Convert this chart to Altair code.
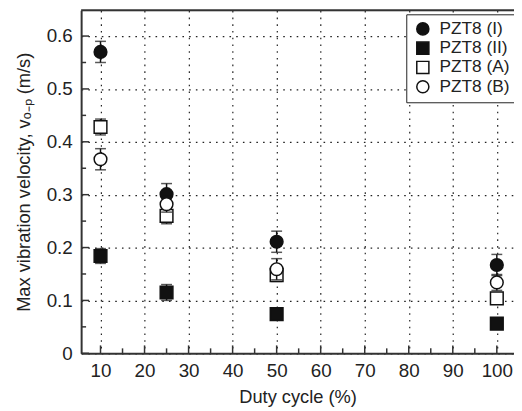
import altair as alt
import pandas as pd

duty = [10, 25, 50, 100]
names = ["PZT8 (I)", "PZT8 (II)", "PZT8 (A)", "PZT8 (B)"]
v_I = [0.570, 0.301, 0.211, 0.167]
e_I = [0.020, 0.020, 0.020, 0.020]
v_II = [0.184, 0.115, 0.074, 0.056]
e_II = [0.014, 0.015, 0.006, 0.005]
v_A = [0.428, 0.260, 0.148, 0.104]
e_A = [0.015, 0.015, 0.012, 0.010]
v_B = [0.367, 0.282, 0.159, 0.134]
e_B = [0.020, 0.015, 0.020, 0.015]

y_major = [0, 0.1, 0.2, 0.3, 0.4, 0.5, 0.6]
y_minor = [0.05, 0.15, 0.25, 0.35, 0.45, 0.55]
x_major = [10, 20, 30, 40, 50, 60, 70, 80, 90, 100]
x_minor = [15, 25, 35, 45, 55, 65, 75, 85, 95]

rows = []
for name, vals, errs in zip(names, [v_I, v_II, v_A, v_B], [e_I, e_II, e_A, e_B]):
    for d, v, e in zip(duty, vals, errs):
        rows.append({"series": name, "duty": d, "v": v, "lo": v - e, "hi": v + e})
df = pd.DataFrame(rows)

W, H = 438, 347
xs = alt.Scale(domain=[5.6, 103.9], nice=False, zero=False)
ys = alt.Scale(domain=[0, 0.6486], nice=False)

FONT = "Liberation Sans"
TXT = "#222222"
LINE = "#333333"

base = alt.Chart(df)

xaxis = alt.Axis(values=x_major, grid=True, gridColor="#222", gridDash=[1.6, 5.2], gridWidth=1.2,
                 ticks=False, domain=True, domainColor=LINE, domainWidth=2,
                 labelFontSize=19, labelFont=FONT, labelColor=TXT,
                 labelPadding=8, title="Duty cycle (%)", titleFontSize=18.5, titleFont=FONT,
                 titleFontWeight="normal", titleColor=TXT, titlePadding=8)
yaxis = alt.Axis(values=y_major, grid=True, gridColor="#222", gridDash=[1.6, 5.2], gridWidth=1.2,
                 ticks=False, domain=True, domainColor=LINE, domainWidth=2,
                 labelFontSize=19, labelFont=FONT, labelColor=TXT,
                 labelPadding=9,
                 labelExpr="datum.value == 0 ? '0' : format(datum.value, '.1f')",
                 title="Max vibration velocity, vₒ₋ₚ (m/s)", titleFontSize=18.5, titleFont=FONT,
                 titleFontWeight="normal", titleColor=TXT, titlePadding=13)

grid_layer = alt.Chart(pd.DataFrame({"x": [10], "y": [0]})).mark_point(opacity=0).encode(
    x=alt.X("x:Q", scale=xs, axis=xaxis),
    y=alt.Y("y:Q", scale=ys, axis=yaxis),
)

top_border = alt.Chart(pd.DataFrame({"y": [0.6486]})).mark_rule(color=LINE, strokeWidth=2).encode(
    y=alt.Y("y:Q", scale=ys), x=alt.value(0), x2=alt.value(W))

ytick_major = alt.Chart(pd.DataFrame({"t": y_major})).mark_rule(color=LINE, strokeWidth=1.5).encode(
    y=alt.Y("t:Q", scale=ys), x=alt.value(0), x2=alt.value(8))
ytick_minor = alt.Chart(pd.DataFrame({"t": y_minor})).mark_rule(color=LINE, strokeWidth=1.5).encode(
    y=alt.Y("t:Q", scale=ys), x=alt.value(0), x2=alt.value(5))
xtick_major = alt.Chart(pd.DataFrame({"t": x_major})).mark_rule(color=LINE, strokeWidth=1.5).encode(
    x=alt.X("t:Q", scale=xs), y=alt.value(H), y2=alt.value(H - 8))
xtick_minor = alt.Chart(pd.DataFrame({"t": x_minor})).mark_rule(color=LINE, strokeWidth=1.5).encode(
    x=alt.X("t:Q", scale=xs), y=alt.value(H), y2=alt.value(H - 5))

layers = [grid_layer, top_border, ytick_major, ytick_minor, xtick_major, xtick_minor]

shape_scale = alt.Scale(domain=names, range=["circle", "square", "square", "circle"])
fill_scale = alt.Scale(domain=names, range=["#111111", "#111111", "#ffffff", "#ffffff"])
stroke_scale = alt.Scale(domain=names, range=["#111111", "#111111", "#111111", "#111111"])
legend = alt.Legend(title=None, orient="none", legendX=329, legendY=4, labelFontSize=17.5,
                    labelFont=FONT, labelColor=TXT, symbolSize=150,
                    symbolStrokeWidth=1.5, strokeColor="#222", fillColor="white", padding=6,
                    rowPadding=0.5, labelOffset=8, cornerRadius=0, symbolOffset=2)

for name in names:
    sb = base.transform_filter(alt.datum.series == name)
    rule = sb.mark_rule(color="#111", strokeWidth=1.5).encode(
        x=alt.X("duty:Q", scale=xs), y=alt.Y("lo:Q", scale=ys), y2="hi:Q")
    cap_lo = sb.mark_tick(orient="horizontal", size=11, thickness=1.5, color="#111").encode(
        x=alt.X("duty:Q", scale=xs), y=alt.Y("lo:Q", scale=ys))
    cap_hi = sb.mark_tick(orient="horizontal", size=11, thickness=1.5, color="#111").encode(
        x=alt.X("duty:Q", scale=xs), y=alt.Y("hi:Q", scale=ys))
    pts = sb.mark_point(size=165, strokeWidth=1.5, opacity=1, filled=False).encode(
        x=alt.X("duty:Q", scale=xs),
        y=alt.Y("v:Q", scale=ys),
        shape=alt.Shape("series:N", scale=shape_scale, legend=legend),
        fill=alt.Fill("series:N", scale=fill_scale, legend=legend),
        stroke=alt.Stroke("series:N", scale=stroke_scale, legend=legend),
    )
    layers += [rule, cap_lo, cap_hi, pts]

chart = alt.layer(*layers).properties(
    width=W, height=H, padding={"left": 74, "top": 0, "right": 0, "bottom": 56},
    autosize=alt.AutoSizeParams(type="none"),
).configure_view(stroke=None).configure(background="white")

chart.save("out.html", embed_options={"renderer": "svg", "actions": False})
